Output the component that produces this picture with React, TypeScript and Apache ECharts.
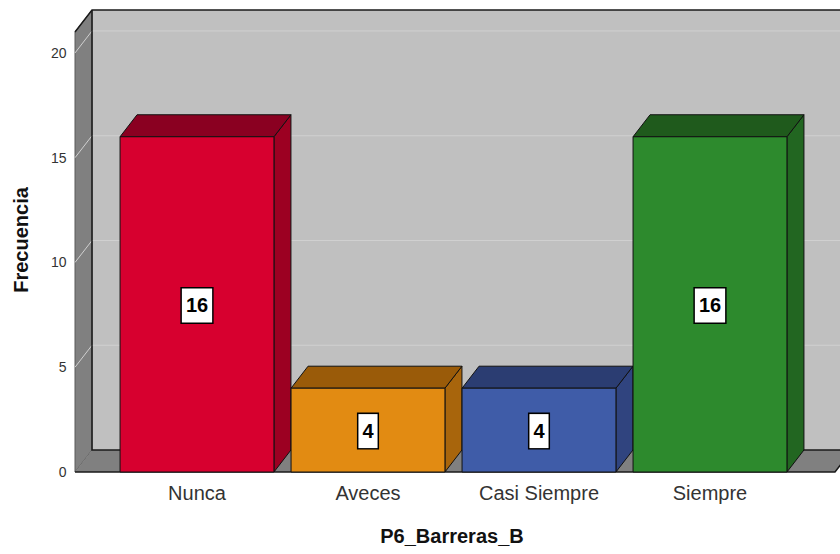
import React, { useEffect, useRef } from "react";
import * as echarts from "echarts";

const CATEGORIES = ["Nunca", "Aveces", "Casi Siempre", "Siempre"];
const FREQUENCIES = [16, 4, 4, 16];
const Y_TICKS = [5, 10, 15, 20];
const Y_MAX = 21;
const FRONT_COLORS = ["#d7002f", "#e28b12", "#3f5ca8", "#2d8a2d"];
const TOP_COLORS = ["#8a0021", "#9a5b09", "#2b3d72", "#1f5a1c"];
const SIDE_COLORS = ["#9c0022", "#a8650c", "#30447f", "#226621"];
const X_TITLE = "P6_Barreras_B";
const Y_TITLE = "Frecuencia";

const DX = 17;
const DY = 22;
const GRID_LEFT = 111.5;
const GRID_RIGHT = 795.5;
const GRID_TOP = 32;
const GRID_BOTTOM = 472;

export default function App() {
  const ref = useRef<HTMLDivElement>(null);
  useEffect(() => {
    if (!ref.current) return;
    const chart = echarts.init(ref.current, undefined, { renderer: "svg" });

    const wallsRender = (params: any, api: any) => {
      const cs = params.coordSys;
      const fl = cs.x - 36.5;
      const fr = cs.x + cs.width + 39.5;
      const ft = cs.y;
      const fb = cs.y + cs.height;
      const children: any[] = [];
      children.push({
        type: "rect",
        shape: { x: fl + DX, y: ft - DY, width: 900, height: fb - ft },
        style: { fill: "#c0c0c0" },
      });
      children.push({
        type: "polygon",
        shape: { points: [[fl, ft], [fl + DX, ft - DY], [fl + DX, fb - DY], [fl, fb]] },
        style: { fill: "#808080", stroke: "#5a5a5a", lineWidth: 1 },
      });
      children.push({
        type: "polygon",
        shape: { points: [[fl, fb], [fl + DX, fb - DY], [fr + DX, fb - DY], [fr, fb]] },
        style: { fill: "#808080" },
      });
      Y_TICKS.forEach((t) => {
        const y = api.coord([0, t])[1];
        children.push({
          type: "polyline",
          shape: { points: [[fl, y], [fl + DX, y - DY], [fl + DX + 900, y - DY]] },
          style: { stroke: "#d0d0d0", lineWidth: 1, fill: null },
        });
      });
      const edges = [
        [[fl, ft], [fl + DX, ft - DY], [fl + DX + 900, ft - DY]],
        [[fl + DX, ft - DY], [fl + DX, fb - DY], [fr + DX, fb - DY]],
        [[fl, fb], [fr, fb], [fr + DX, fb - DY]],
      ];
      edges.forEach((pts) => {
        children.push({
          type: "polyline",
          shape: { points: pts },
          style: { stroke: "#1a1a1a", lineWidth: 1.5, fill: null },
        });
      });
      return { type: "group", children };
    };

    const barsRender = (params: any, api: any) => {
      const idx = api.value(0);
      const v = api.value(1);
      const top = api.coord([idx, v]);
      const base = api.coord([idx, 0]);
      const bw = api.size([1, 0])[0] * 0.9;
      const x0 = top[0] - bw / 2;
      const x1 = top[0] + bw / 2;
      const yT = top[1];
      const yB = base[1];
      const i = params.dataIndex;
      const stroke = { stroke: "#111", lineWidth: 1 };
      return {
        type: "group",
        children: [
          {
            type: "polygon",
            shape: { points: [[x1, yT], [x1 + DX, yT - DY], [x1 + DX, yB - DY], [x1, yB]] },
            style: { fill: SIDE_COLORS[i], ...stroke },
          },
          {
            type: "polygon",
            shape: { points: [[x0, yT], [x0 + DX, yT - DY], [x1 + DX, yT - DY], [x1, yT]] },
            style: { fill: TOP_COLORS[i], ...stroke },
          },
          {
            type: "rect",
            shape: { x: x0, y: yT, width: bw, height: yB - yT },
            style: { fill: FRONT_COLORS[i], ...stroke },
          },
          {
            type: "text",
            x: top[0],
            y: (yT + yB) / 2 + 1,
            style: {
              text: String(v),
              align: "center",
              verticalAlign: "middle",
              fontFamily: "Arial, 'Liberation Sans', sans-serif",
              fontWeight: "bold",
              fontSize: 20,
              fill: "#000",
              backgroundColor: "#fff",
              borderColor: "#000",
              borderWidth: 1.5,
              padding: [8, 4, 6, 4],
            },
          },
        ],
      };
    };

    chart.setOption({
      animation: false,
      backgroundColor: "#ffffff",
      grid: {
        left: GRID_LEFT,
        right: 840 - GRID_RIGHT,
        top: GRID_TOP,
        bottom: 554 - GRID_BOTTOM,
      },
      xAxis: {
        type: "category",
        data: CATEGORIES,
        axisLine: { show: false },
        axisTick: { show: false },
        splitLine: { show: false },
        axisLabel: {
          margin: 11,
          fontSize: 20,
          color: "#333",
          fontFamily: "Arial, 'Liberation Sans', sans-serif",
        },
      },
      yAxis: {
        type: "value",
        min: 0,
        max: Y_MAX,
        interval: 5,
        axisLine: { show: false },
        axisTick: { show: false },
        splitLine: { show: false },
        axisLabel: {
          showMaxLabel: false,
          margin: 45,
          fontSize: 14,
          color: "#333",
          fontFamily: "Arial, 'Liberation Sans', sans-serif",
        },
      },
      graphic: [
        {
          type: "text",
          x: 21,
          y: 240,
          rotation: Math.PI / 2,
          style: {
            text: Y_TITLE,
            align: "center",
            verticalAlign: "middle",
            fontSize: 20,
            fontWeight: "bold",
            fill: "#111",
            fontFamily: "Arial, 'Liberation Sans', sans-serif",
          },
        },
        {
          type: "text",
          x: 452,
          y: 536,
          style: {
            text: X_TITLE,
            align: "center",
            verticalAlign: "middle",
            fontSize: 20,
            fontWeight: "bold",
            fill: "#111",
            fontFamily: "Arial, 'Liberation Sans', sans-serif",
          },
        },
      ],
      series: [
        {
          type: "custom",
          z: 1,
          silent: true,
          renderItem: wallsRender,
          data: [[0, 0]],
        },
        {
          type: "custom",
          z: 2,
          renderItem: barsRender,
          data: FREQUENCIES.map((v, i) => [i, v]),
        },
      ],
    });
    return () => chart.dispose();
  }, []);
  return (
    <div
      ref={ref}
      style={{ position: "fixed", left: 0, top: 0, width: 840, height: 554, background: "#fff" }}
    />
  );
}
